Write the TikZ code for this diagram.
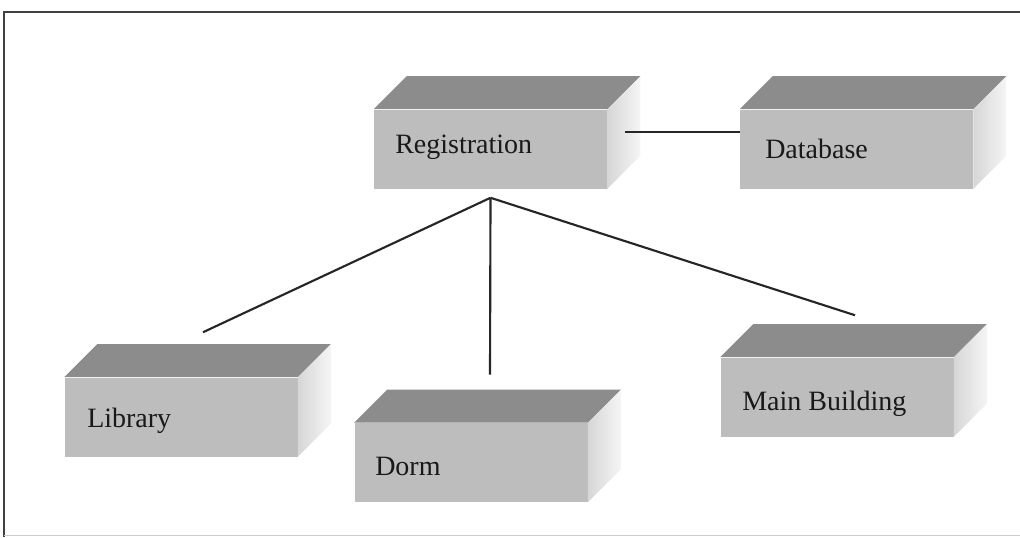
\documentclass[tikz,border=0pt]{standalone}
\usepackage{fontspec}
\setmainfont{Liberation Serif}
\usepackage{xcolor}
\usepackage{tikz}
\usetikzlibrary{calc}

\definecolor{frontgray}{gray}{0.74}
\definecolor{topgray}{gray}{0.55}
\definecolor{sidegray}{gray}{0.84}

% top and right faces of a block, hung on the front node
\newcommand{\blockfaces}[1]{%
  \fill[topgray] (#1.north west) -- ++(33,-33) -- ($(#1.north east)+(33,-33)$)
    -- (#1.north east) -- cycle;
  \shade[left color=sidegray,right color=gray!8] (#1.north east) -- ++(33,-33)
    -- ($(#1.south east)+(33,-33)$) -- (#1.south east) -- cycle;
}

\begin{document}
\begin{tikzpicture}[x=0.75pt,y=-0.75pt,
  block/.style={fill=frontgray,minimum width=174.75pt,minimum height=59.25pt,inner sep=0pt},
  blocktext/.style={anchor=base west,inner sep=0pt,text=black!90,
    font=\fontsize{21}{24}\selectfont},
  wire/.style={line width=1.6pt,black!85}]

  \useasboundingbox (0,0) rectangle (1020,537);

  %% frame
  \draw[line width=1.5pt,black!75] (4,537) -- (4,12) -- (1020,12);
  \draw[line width=0.6pt,black!20] (4,535) -- (1020,535);

  %% blocks
  \node[block] (reg)  at (490.5,149) {};
  \node[block] (db)   at (856.5,149) {};
  \node[block] (lib)  at (181,417)   {};
  \node[block] (dorm) at (471,462.5) {};
  \node[block] (main) at (837,397)   {};
  \blockfaces{reg}
  \blockfaces{db}
  \blockfaces{lib}
  \blockfaces{dorm}
  \blockfaces{main}

  % labels
  \node[blocktext] (regtxt)  at (395,153) {Registration};
  \node[blocktext] (dbtxt)   at (765,158) {Database};
  \node[blocktext] (libtxt)  at (87,427)  {Library};
  \node[blocktext] (dormtxt) at (375,475) {Dorm};
  \node[blocktext] (maintxt) at (742,410) {Main Building};

  %% connectors
  \coordinate (hub)    at ($(reg.south)+(0,9)$);
  \coordinate (libend)  at ($(lib.north)+(22,-45)$);
  \coordinate (dormend) at ($(dorm.north)+(19,-48)$);
  \coordinate (mainend) at ($(main.north)+(18,-42)$);
  \coordinate (regside) at ($(reg.east)+(18,-17)$);
  \draw[wire] (hub) -- (libend);
  \draw[wire] (hub) -- (dormend);
  \draw[wire] (hub) -- (mainend);
  \draw[wire] (regside) -- (db.west |- regside);

\end{tikzpicture}
\end{document}
